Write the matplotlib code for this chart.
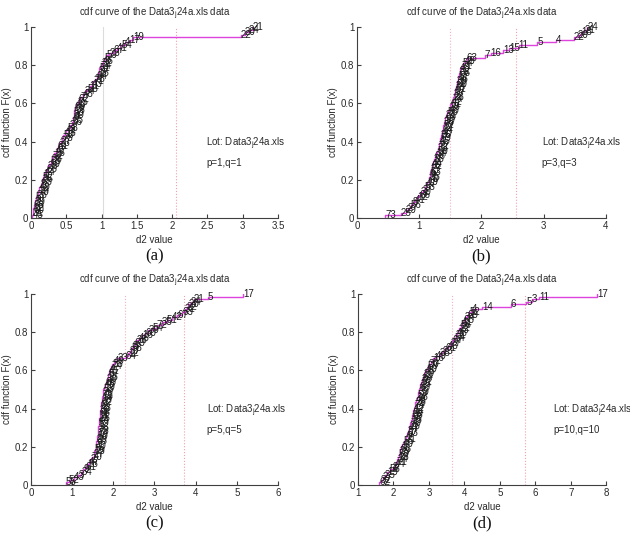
import numpy as np
import matplotlib
matplotlib.use("Agg")
import matplotlib.pyplot as plt
from matplotlib.ticker import FormatStrFormatter

plt.rcParams['font.family'] = ['Liberation Sans', 'DejaVu Sans']
plt.rcParams['mathtext.fontset'] = 'custom'
plt.rcParams['mathtext.rm'] = 'Liberation Sans'

# d2 values (sorted) and sample numbers for the four (p, q) settings
d2_a = [0.02, 0.025, 0.03, 0.035, 0.04, 0.05, 0.06, 0.07, 0.085, 0.10,
        0.11, 0.12, 0.135, 0.15, 0.16, 0.17, 0.18, 0.20, 0.22, 0.24,
        0.26, 0.28, 0.30, 0.31, 0.33, 0.35, 0.37, 0.38, 0.40, 0.42,
        0.44, 0.46, 0.48, 0.50, 0.52, 0.55, 0.58, 0.59, 0.60, 0.605,
        0.61, 0.615, 0.62, 0.64, 0.66, 0.68, 0.70, 0.73, 0.76, 0.80,
        0.83, 0.86, 0.88, 0.90, 0.93, 0.95, 0.96, 0.97, 0.98, 1.00,
        1.02, 1.04, 1.07, 1.11, 1.17, 1.22, 1.28, 1.33, 1.40, 1.45,
        2.97, 3.03, 3.08, 3.14]
lab_a = [45, 31, 60, 12, 68, 39, 3, 57, 26, 70, 14, 49, 8, 63, 35, 52, 1, 44, 66, 29,
         10, 55, 38, 72, 16, 47, 6, 61, 33, 27, 73, 50, 13, 42, 58, 2, 36, 65, 9, 30,
         53, 18, 69, 40, 25, 62, 7, 48, 34, 56, 11, 43, 71, 28, 64, 15, 37, 51, 74, 32,
         46, 5, 59, 23, 67, 41, 54, 4, 17, 19, 22, 20, 24, 21]

d2_b = [0.45, 0.70, 0.78, 0.82, 0.86, 0.90, 0.93, 0.97, 1.00, 1.03,
        1.06, 1.09, 1.11, 1.13, 1.15, 1.16, 1.17, 1.18, 1.19, 1.20,
        1.21, 1.22, 1.23, 1.25, 1.27, 1.29, 1.30, 1.31, 1.32, 1.33,
        1.34, 1.35, 1.36, 1.37, 1.38, 1.39, 1.40, 1.41, 1.42, 1.43,
        1.45, 1.47, 1.49, 1.50, 1.52, 1.54, 1.55, 1.56, 1.57, 1.58,
        1.59, 1.60, 1.61, 1.62, 1.63, 1.64, 1.65, 1.66, 1.68, 1.70,
        1.73, 1.76, 2.05, 2.15, 2.35, 2.45, 2.60, 2.90, 3.20, 3.48,
        3.55, 3.60, 3.65, 3.70]
lab_b = [73, 25, 29, 2, 56, 8,
         41, 12, 66, 30, 3, 58, 47, 19, 70, 35, 9, 53, 27, 62, 44, 1, 38, 68, 14, 50,
         33, 72, 6, 45, 59, 26, 40, 64, 17, 52, 36, 10, 69, 31, 55, 48, 23, 61, 42, 74,
         28, 37, 67, 51, 34, 60, 39, 46, 57, 65, 32, 43, 71, 54, 49, 63,
         7, 16, 13, 15, 11, 5, 4, 22, 20, 18, 21, 24]

d2_c = [0.85, 0.92, 1.05, 1.15, 1.22, 1.27, 1.32, 1.36, 1.40, 1.44,
        1.48, 1.52, 1.54, 1.55, 1.57, 1.58, 1.59, 1.60, 1.61, 1.62,
        1.63, 1.635, 1.64, 1.65, 1.655, 1.66, 1.665, 1.67, 1.68, 1.69,
        1.70, 1.71, 1.72, 1.73, 1.74, 1.75, 1.76, 1.78, 1.80, 1.82,
        1.84, 1.86, 1.88, 1.90, 1.92, 1.95, 1.98, 2.02, 2.10, 2.30,
        2.36, 2.40, 2.44, 2.48, 2.52, 2.56, 2.62, 2.70, 2.78, 2.85,
        2.95, 3.05, 3.18, 3.30, 3.42, 3.55, 3.68, 3.74, 3.78, 3.82,
        3.88, 3.95, 4.30, 5.15]
lab_c = [55, 52, 43, 3,
         34, 9, 61, 18, 47, 2, 70, 27, 13, 56, 40, 7, 65, 29, 50, 14, 73, 36, 1, 59,
         44, 25, 11, 68, 32, 48, 6, 62, 38, 19, 71, 26, 53, 10, 45, 66, 30, 15, 57, 41,
         4, 74, 33, 49, 23, 64, 12, 37, 58, 8, 69, 28, 46, 16, 60, 39, 54, 72, 35, 51,
         42, 67, 63, 31,
         22, 20, 24, 21, 5, 17]

d2_d = [1.60, 1.65, 1.70, 1.75, 1.82, 1.90, 1.98, 2.05, 2.08, 2.11,
        2.13, 2.15, 2.17, 2.19, 2.21, 2.25, 2.29, 2.33, 2.36, 2.39,
        2.41, 2.43, 2.45, 2.47, 2.49, 2.51, 2.53, 2.55, 2.56, 2.58,
        2.60, 2.62, 2.64, 2.66, 2.68, 2.70, 2.72, 2.74, 2.76, 2.78,
        2.80, 2.83, 2.86, 2.89, 2.92, 2.96, 3.00, 3.05, 3.12, 3.20,
        3.30, 3.38, 3.46, 3.54, 3.60, 3.66, 3.72, 3.76, 3.78, 3.82,
        3.86, 3.90, 3.94, 3.98, 4.02, 4.08, 4.14, 4.20, 4.50, 5.30,
        5.75, 5.90, 6.10, 7.75]
lab_d = [62, 32, 2,
         35, 19, 58, 8, 44, 71, 24, 13, 50, 29, 66, 1, 40, 55, 21, 9, 63, 37, 47, 26,
         70, 15, 53, 33, 60, 12, 42, 74, 28, 48, 18, 57, 39, 7, 68, 25, 51, 36, 64, 20,
         45, 10, 59, 30, 72, 16, 49, 38, 23, 61, 43, 27, 67, 54, 31, 46, 73, 22, 56, 41,
         65, 34, 69, 52,
         4, 14, 6, 5, 3, 11, 17]

# threshold lines (lower, upper) per panel
limits = [(1.02, 2.05), (1.50, 2.55), (2.28, 3.72), (3.65, 5.72)]
pq = ["p=1,q=1", "p=3,q=3", "p=5,q=5", "p=10,q=10"]
xlims = [(0, 3.5), (0, 4), (0, 6), (1, 8)]
xticks = [np.arange(0, 3.51, 0.5), np.arange(0, 4.1, 1), np.arange(0, 6.1, 1), np.arange(1, 8.1, 1)]
lot_x = [2.48, 2.97, 4.27, 6.5]
letters = ["(a)", "(b)", "(c)", "(d)"]

positions = [
    [0.0492, 0.5918, 0.392, 0.3577],
    [0.5667, 0.5918, 0.395, 0.3577],
    [0.0492, 0.0918, 0.392, 0.3577],
    [0.5683, 0.0918, 0.394, 0.3577],
]

fig = plt.figure(figsize=(6.3, 5.34), dpi=100)
datasets = [(d2_a, lab_a), (d2_b, lab_b), (d2_c, lab_c), (d2_d, lab_d)]
axc = '#404040'
txtc = '#2a2a2a'

for i, (d2, lab) in enumerate(datasets):
    ax = fig.add_axes(positions[i])
    x = np.array(d2)
    n = len(x)
    F = np.arange(1, n + 1) / n

    lo, hi = limits[i]
    ax.axvline(lo, color='#dcdcdc' if i == 0 else '#f2b3c0', lw=0.8,
               ls='-' if i == 0 else ':')
    ax.axvline(hi, color='#f2a0b0', lw=0.8, ls=':')

    ax.step(np.r_[x[0], x], np.r_[0, F], where='post', color='#dd44dd', lw=1.0)
    for xv, fv, lb in zip(x, F, lab):
        ax.text(xv, fv, str(lb), fontsize=7, ha='left', va='center',
                color='#1a1a1a', clip_on=False)

    ax.set_xlim(*xlims[i])
    ax.set_ylim(0, 1)
    ax.set_xticks(xticks[i])
    ax.set_yticks([0, 0.2, 0.4, 0.6, 0.8, 1])
    ax.xaxis.set_major_formatter(FormatStrFormatter('%g'))
    ax.yaxis.set_major_formatter(FormatStrFormatter('%g'))
    ax.tick_params(direction='in', length=3, width=0.8, colors=axc,
                   labelsize=7, labelcolor=txtc, pad=2)
    for s in ['top', 'right']:
        ax.spines[s].set_visible(False)
    for s in ['left', 'bottom']:
        ax.spines[s].set_color(axc)
        ax.spines[s].set_linewidth(0.8)

    ax.set_title(r"cdf curve of the Data3$_{\mathrm{j}}$24a.xls data",
                 fontsize=7, color=txtc, pad=8)
    ax.set_xlabel("d2 value", fontsize=7, color=txtc, labelpad=3)
    ax.set_ylabel("cdf function F(x)", fontsize=7, color=txtc, labelpad=2)

    ax.text(lot_x[i], 0.39, r"Lot: Data3$_{\mathrm{j}}$24a.xls", fontsize=7,
            color=txtc, ha='left', va='center')
    ax.text(lot_x[i], 0.29, pq[i], fontsize=7, color=txtc,
            ha='left', va='center')

    ax.text(0.5, -0.2, letters[i], transform=ax.transAxes, ha='center',
            va='center', fontsize=12, family='Liberation Serif', color='#111111')

fig.savefig("out.png", dpi=100)
